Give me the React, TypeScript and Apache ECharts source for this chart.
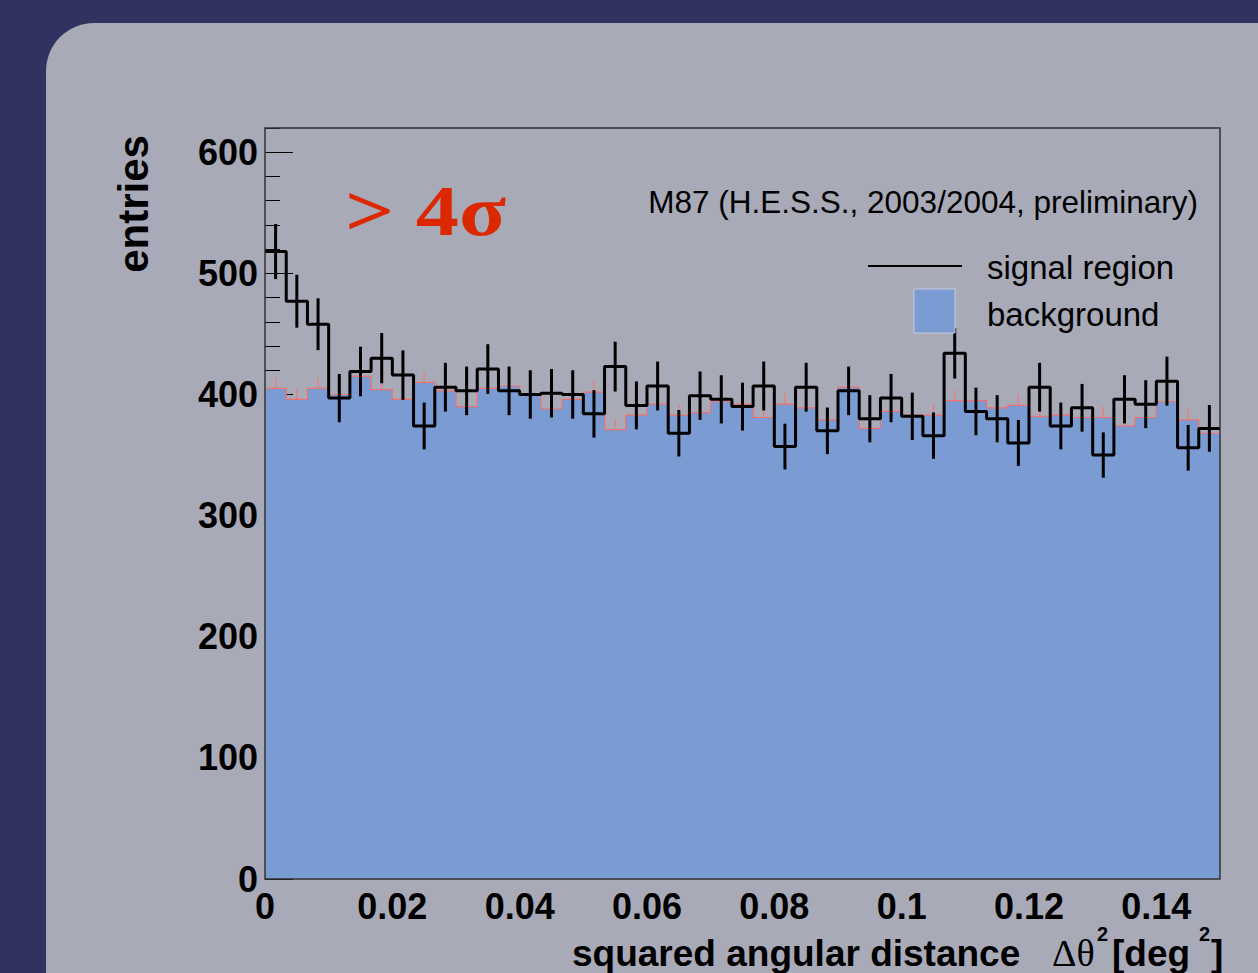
import React, { useEffect, useRef } from "react";
import * as echarts from "echarts";

// ---- data ----
const X_MIN = 0;
const X_MAX = 0.15;
const N_BINS = 45;
const Y_MAX = 620;
const signalCounts = [
  518, 477, 458, 397, 419, 430, 416, 374, 406, 403, 421, 403, 400, 401, 400,
  384, 423, 391, 407, 368, 399, 396, 390, 407, 357, 406, 370, 403, 380, 397,
  382, 366, 434, 386, 380, 360, 406, 374, 389, 350, 396, 392, 411, 356, 372,
];
const backgroundCounts = [
  405, 396, 405, 400, 415, 404, 396, 410, 403, 390, 405, 407, 400, 388, 396,
  402, 371, 383, 392, 383, 385, 394, 392, 381, 392, 389, 379, 406, 372, 386,
  383, 383, 395, 395, 389, 391, 382, 383, 381, 381, 374, 381, 394, 379, 368,
];
const BG_ERR = 9;
const yMajorTicks = [0, 100, 200, 300, 400, 500, 600];

const binW = (X_MAX - X_MIN) / N_BINS;
const edges = signalCounts.map((_, i) => X_MIN + i * binW);
const stepData = (vals: number[]) => [
  ...vals.map((v, i) => [edges[i], v]),
  [X_MAX, vals[vals.length - 1]],
];
const sigErrData = signalCounts.map((v, i) => [edges[i] + binW / 2, v, Math.sqrt(v)]);
const bgErrData = backgroundCounts.map((v, i) => [edges[i] + binW / 2, v, BG_ERR]);

const SANS = "'Liberation Sans', Arial, Helvetica, sans-serif";
const SERIF = "'Liberation Serif', 'Times New Roman', serif";
const BLUE = "#7b9bd3";

function errRender(color: string, width: number) {
  return (params: any, api: any) => {
    const x = api.value(0);
    const y = api.value(1);
    const e = api.value(2);
    const p1 = api.coord([x, y - e]);
    const p2 = api.coord([x, y + e]);
    return {
      type: "line",
      shape: { x1: p1[0], y1: p1[1], x2: p2[0], y2: p2[1] },
      style: { stroke: color, lineWidth: width },
    };
  };
}

function txt(
  text: string,
  x: number,
  y: number,
  opts: { size: number; weight?: string; family?: string; color?: string; align?: string; scaleX?: number; rotation?: number }
) {
  return {
    type: "text",
    x,
    y,
    scaleX: opts.scaleX ?? 1,
    rotation: opts.rotation ?? 0,
    z: 20,
    style: {
      text,
      fill: opts.color ?? "#000",
      fontSize: opts.size,
      fontWeight: opts.weight ?? "normal",
      fontFamily: opts.family ?? SANS,
      align: opts.align ?? "left",
      textAlign: opts.align ?? "left",
      verticalAlign: "middle",
      textVerticalAlign: "middle",
    },
  };
}

export default function App() {
  const ref = useRef<HTMLDivElement>(null);
  useEffect(() => {
    if (!ref.current) return;
    const chart = echarts.init(ref.current, undefined, { renderer: "svg" });
    const option: any = {
      animation: false,
      backgroundColor: "#30325f",
      grid: {
        left: 265,
        right: 38,
        top: 128,
        bottom: 94,
        show: true,
        borderColor: "#333",
        borderWidth: 1.5,
        backgroundColor: "transparent",
        z: 10,
      },
      xAxis: {
        type: "value",
        min: X_MIN,
        max: X_MAX,
        interval: 0.02,
        axisLine: { show: false },
        axisTick: { show: false },
        splitLine: { show: false },
        axisLabel: {
          margin: 9,
          fontSize: 36,
          fontWeight: "bold",
          fontFamily: SANS,
          color: "#000",
          formatter: (v: number) =>
            Math.abs(v - X_MAX) < 1e-9 ? "" : String(+v.toFixed(2)),
        },
      },
      yAxis: [
        {
          type: "value",
          min: 0,
          max: Y_MAX,
          interval: 20,
          axisLine: { show: false },
          splitLine: { show: false },
          axisTick: { show: true, inside: true, length: 15, lineStyle: { color: "#000", width: 1 } },
          axisLabel: {
            margin: 7,
            fontSize: 36,
            fontWeight: "bold",
            fontFamily: SANS,
            color: "#000",
            formatter: (v: number) => (yMajorTicks.includes(v) ? String(v) : ""),
          },
        },
        {
          type: "value",
          min: 0,
          max: Y_MAX,
          interval: 100,
          position: "left",
          offset: 0,
          axisLine: { show: false },
          splitLine: { show: false },
          axisLabel: { show: false },
          axisTick: {
            show: true,
            inside: true,
            length: 28,
            customValues: yMajorTicks,
            lineStyle: { color: "#000", width: 1 },
          },
        },
      ],
      series: [
        {
          name: "bgErr",
          type: "custom",
          renderItem: errRender("#f07878", 1.2),
          data: bgErrData,
          encode: { x: 0, y: 1 },
          z: 1,
          silent: true,
        },
        {
          name: "background",
          type: "line",
          step: "end",
          data: stepData(backgroundCounts),
          symbol: "none",
          lineStyle: { color: "#f07070", width: 1.2 },
          areaStyle: { color: BLUE, opacity: 1 },
          z: 2,
          silent: true,
        },
        {
          name: "signal region",
          type: "line",
          step: "end",
          data: stepData(signalCounts),
          symbol: "none",
          lineStyle: { color: "#000", width: 3 },
          z: 3,
          silent: true,
        },
        {
          name: "sigErr",
          type: "custom",
          renderItem: errRender("#000", 3),
          data: sigErrData,
          encode: { x: 0, y: 1 },
          z: 4,
          silent: true,
        },
      ],
      graphic: [
        {
          type: "rect",
          shape: { x: 46, y: 23, width: 1300, height: 1100, r: 48 },
          style: { fill: "#a9aab8" },
          z: -10,
          silent: true,
        },
        txt("entries", 133, 204, { size: 42, weight: "bold", rotation: Math.PI / 2, align: "center" }),
        txt("> 4σ", 345, 211, { size: 72, weight: "bold", family: SERIF, color: "#dc2800", scaleX: 1.2 }),
        txt("M87 (H.E.S.S., 2003/2004, preliminary)", 1198, 202, { size: 31.5, align: "right" }),
        {
          type: "line",
          shape: { x1: 868, y1: 266, x2: 962, y2: 266 },
          style: { stroke: "#000", lineWidth: 2 },
          z: 20,
        },
        {
          type: "rect",
          shape: { x: 914, y: 289, width: 41, height: 44 },
          style: { fill: BLUE, stroke: "#c5cbe0", lineWidth: 1 },
          z: 20,
        },
        txt("signal region", 987, 267, { size: 33 }),
        txt("background", 987, 314, { size: 33 }),
        txt("squared angular distance", 572, 953, { size: 37, weight: "bold" }),
        txt("Δθ", 1052, 953, { size: 38, family: SERIF }),
        txt("2", 1097, 934, { size: 20, weight: "bold" }),
        txt("[deg", 1112, 953, { size: 37, weight: "bold" }),
        txt("2", 1199, 934, { size: 20, weight: "bold" }),
        txt("]", 1211, 953, { size: 37, weight: "bold" }),
      ],
    };
    chart.setOption(option);
    return () => chart.dispose();
  }, []);
  return (
    <div
      ref={ref}
      style={{ position: "fixed", left: 0, top: 0, width: 1258, height: 973 }}
    />
  );
}
